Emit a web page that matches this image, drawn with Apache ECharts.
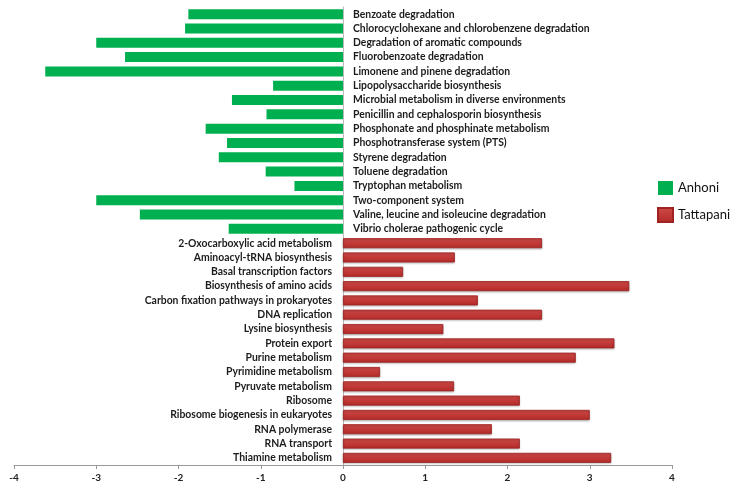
<!DOCTYPE html>
<html lang="en">
<head>
    <meta charset="UTF-8">
    <title>Anhoni vs Tattapani pathways</title>
    <script src="https://cdn.jsdelivr.net/npm/echarts@6/dist/echarts.min.js"></script>
    <style>
        html, body { margin: 0; padding: 0; background: #fff; }
    </style>
</head>
<body>
<div id="main" style="width: 737px;height:490px;"></div>
<script type="text/javascript">

    // pathways enriched in Anhoni (drawn to the left)
    var anhoniNames = [
        'Benzoate degradation',
        'Chlorocyclohexane and chlorobenzene degradation',
        'Degradation of aromatic compounds',
        'Fluorobenzoate degradation',
        'Limonene and pinene degradation',
        'Lipopolysaccharide biosynthesis',
        'Microbial metabolism in diverse environments',
        'Penicillin and cephalosporin biosynthesis',
        'Phosphonate and phosphinate metabolism',
        'Phosphotransferase system (PTS)',
        'Styrene degradation',
        'Toluene degradation',
        'Tryptophan metabolism',
        'Two-component system',
        'Valine, leucine and isoleucine degradation',
        'Vibrio cholerae pathogenic cycle'
    ];
    var anhoniValues = [-1.88, -1.92, -3.0, -2.65, -3.62, -0.85, -1.35, -0.93,
        -1.67, -1.41, -1.51, -0.94, -0.59, -3.0, -2.47, -1.39];

    // pathways enriched in Tattapani (drawn to the right)
    var tattapaniNames = [
        '2-Oxocarboxylic acid metabolism',
        'Aminoacyl-tRNA biosynthesis',
        'Basal transcription factors',
        'Biosynthesis of amino acids',
        'Carbon fixation pathways in prokaryotes',
        'DNA replication',
        'Lysine biosynthesis',
        'Protein export',
        'Purine metabolism',
        'Pyrimidine metabolism',
        'Pyruvate metabolism',
        'Ribosome',
        'Ribosome biogenesis in eukaryotes',
        'RNA polymerase',
        'RNA transport',
        'Thiamine metabolism'
    ];
    var tattapaniValues = [2.42, 1.36, 0.73, 3.48, 1.64, 2.42, 1.22, 3.3,
        2.83, 0.45, 1.35, 2.15, 3.0, 1.81, 2.15, 3.26];

    var xTicks = [-4, 4, 1]; // min, max, interval

    var categories = anhoniNames.concat(tattapaniNames);
    var greenData = anhoniValues.concat(tattapaniNames.map(function () { return '-'; }));
    var redData = anhoniNames.map(function () { return '-'; }).concat(tattapaniValues);

    var chartDom = document.getElementById('main');
    var myChart = echarts.init(chartDom);
    var option;

    var labelFont = {
        fontFamily: 'Lato',
        fontSize: 10.4,
        fontWeight: 'bold',
        color: '#1c1c1c'
    };

    option = {
        animation: false,
        textStyle: { fontFamily: 'Lato' },
        grid: {
            left: 14,
            right: 65,
            top: 7,
            bottom: 25,
            containLabel: false
        },
        legend: {
            orient: 'vertical',
            left: 652,
            top: 176,
            icon: 'rect',
            itemWidth: 15,
            itemHeight: 14,
            itemGap: 12,
            textStyle: { fontFamily: 'Lato', fontSize: 13, color: '#111' },
            data: ['Anhoni', 'Tattapani']
        },
        xAxis: {
            type: 'value',
            min: xTicks[0],
            max: xTicks[1],
            interval: xTicks[2],
            splitLine: { show: false },
            axisLine: { show: true, onZero: false, lineStyle: { color: '#999' } },
            axisTick: { show: true, length: 4, lineStyle: { color: '#999' } },
            axisLabel: { fontFamily: 'Lato', fontSize: 10, fontWeight: 'bold', color: '#222', margin: 8 }
        },
        yAxis: {
            type: 'category',
            data: categories,
            inverse: true,
            axisLine: { show: true, onZero: true, lineStyle: { color: '#bbb' } },
            axisTick: { show: false },
            axisLabel: { show: false }
        },
        series: [
            {
                name: 'Anhoni',
                type: 'bar',
                data: greenData,
                barCategoryGap: '30%',
                barGap: '-100%',
                itemStyle: { color: '#00b050' },
                label: {
                    show: true,
                    position: 'right',
                    distance: 10,
                    formatter: '{b}',
                    fontFamily: labelFont.fontFamily,
                    fontSize: labelFont.fontSize,
                    fontWeight: labelFont.fontWeight,
                    color: labelFont.color
                }
            },
            {
                name: 'Tattapani',
                type: 'bar',
                data: redData,
                barCategoryGap: '30%',
                barGap: '-100%',
                itemStyle: {
                    color: new echarts.graphic.LinearGradient(0, 0, 0, 1, [
                        { offset: 0, color: '#cf4a48' },
                        { offset: 1, color: '#b22a28' }
                    ]),
                    borderColor: '#9e2321',
                    borderWidth: 0.8,
                    shadowColor: 'rgba(0,0,0,0.25)',
                    shadowBlur: 2,
                    shadowOffsetY: 1
                },
                label: {
                    show: true,
                    position: 'left',
                    distance: 11,
                    formatter: '{b}',
                    fontFamily: labelFont.fontFamily,
                    fontSize: labelFont.fontSize,
                    fontWeight: labelFont.fontWeight,
                    color: labelFont.color
                }
            }
        ]
    };

    option && myChart.setOption(option);
</script>
</body>
</html>
